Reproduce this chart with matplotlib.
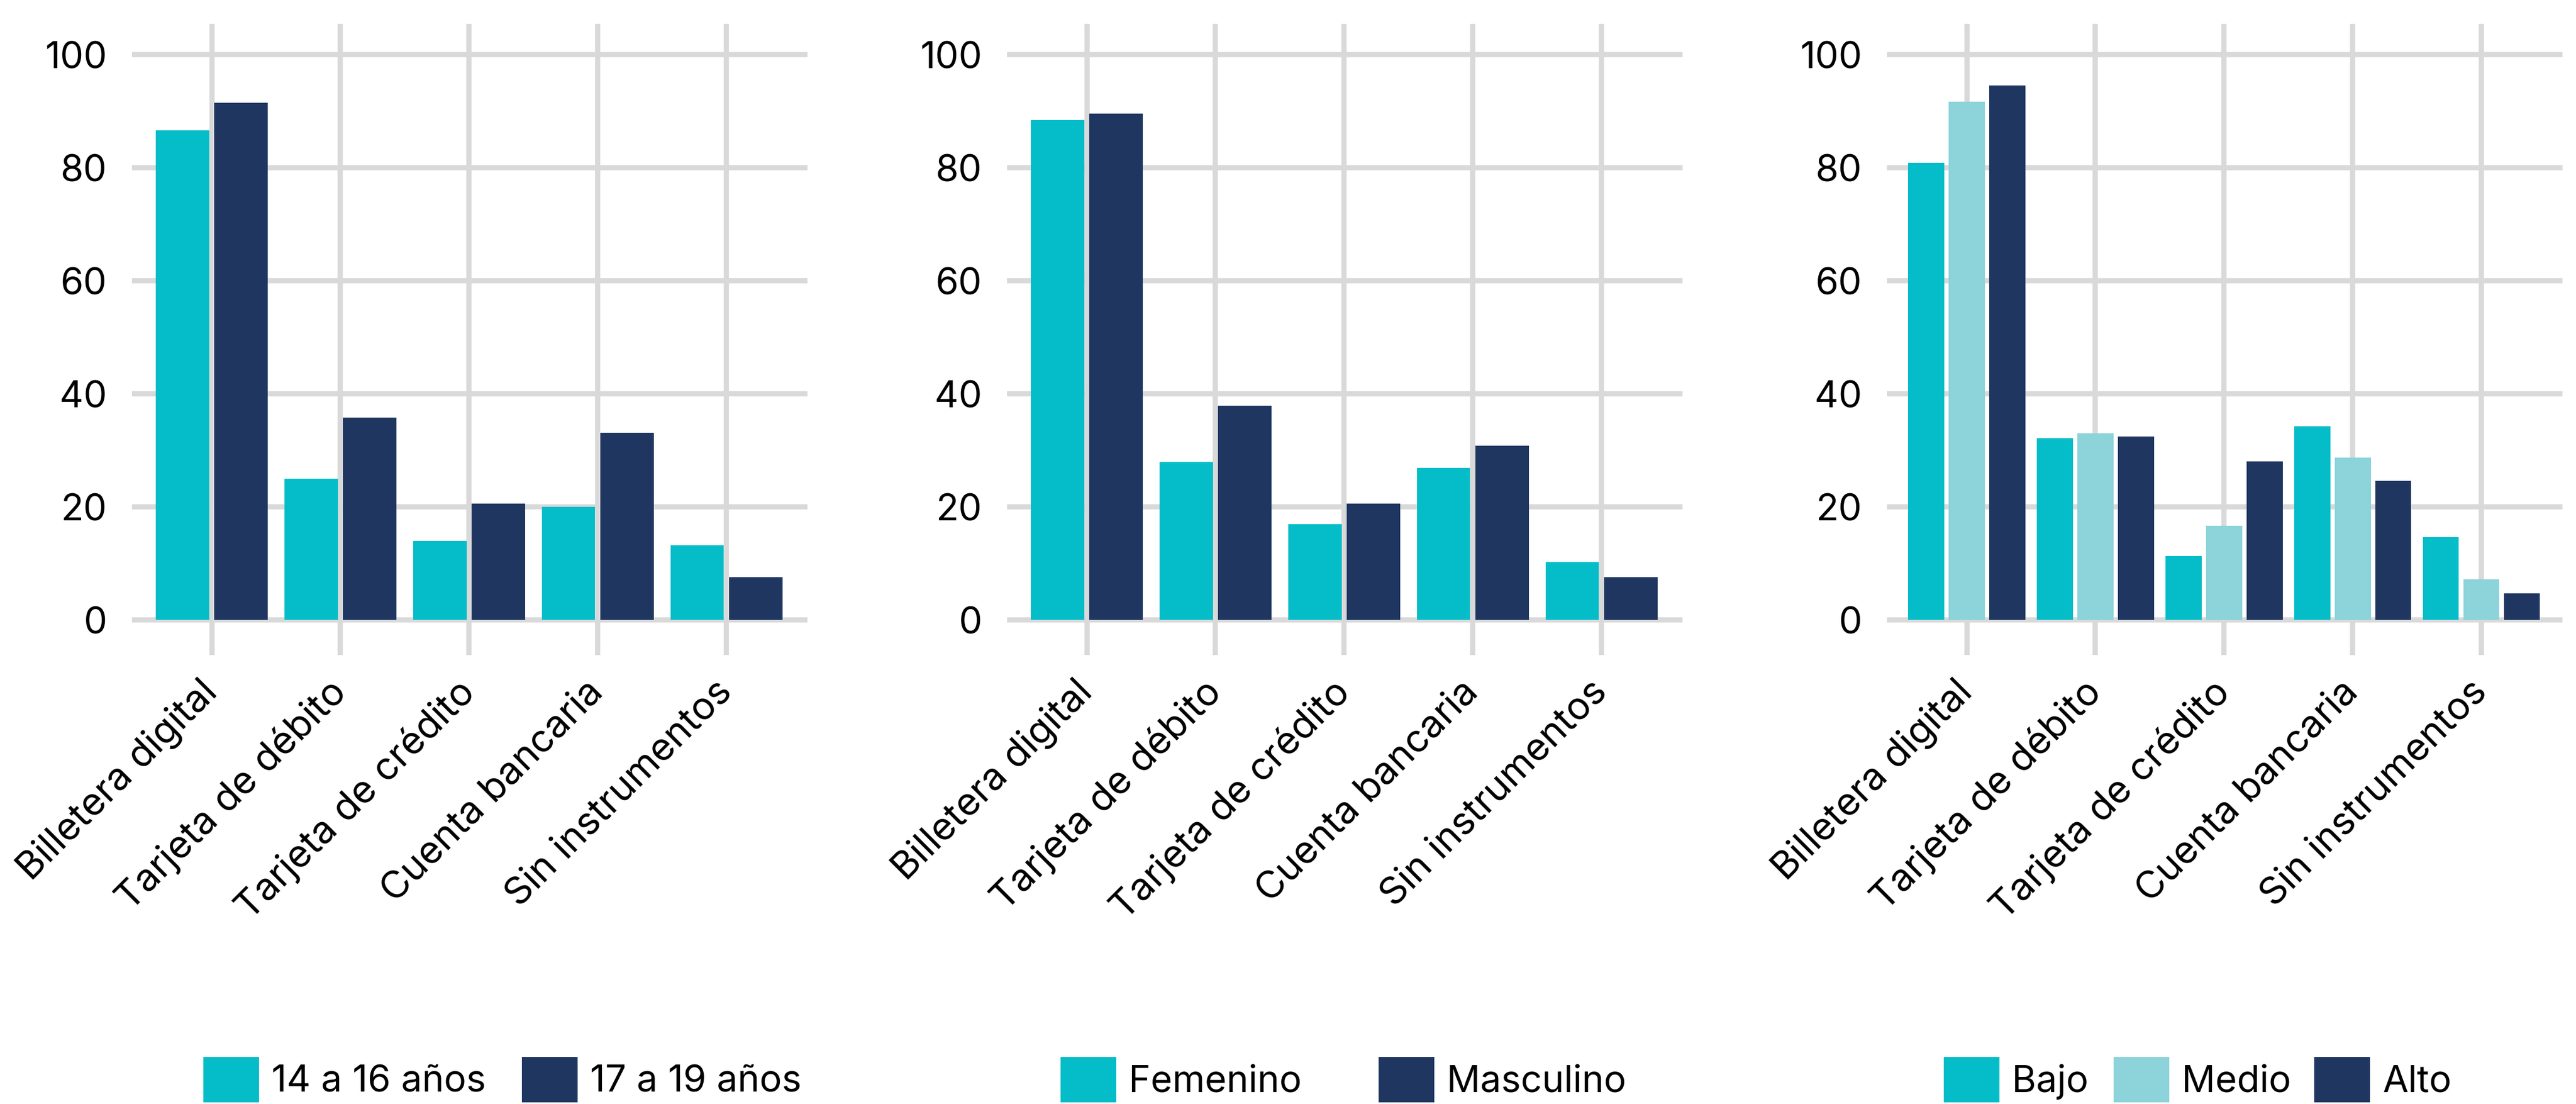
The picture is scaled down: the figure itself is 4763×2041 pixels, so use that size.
import numpy as np
import matplotlib
matplotlib.use("Agg")
import matplotlib.pyplot as plt
from matplotlib.transforms import ScaledTranslation

plt.rcParams['font.family'] = ['Inter', 'DejaVu Sans']

# data
categorias = ['Billetera digital', 'Tarjeta de débito', 'Tarjeta de crédito',
              'Cuenta bancaria', 'Sin instrumentos']

edad_labels = ['14 a 16 años', '17 a 19 años']
edad_14_16 = [86.6, 25.0, 14.0, 20.0, 13.2]
edad_17_19 = [91.5, 35.8, 20.6, 33.1, 7.6]

sexo_labels = ['Femenino', 'Masculino']
femenino = [88.5, 28.0, 17.0, 26.9, 10.3]
masculino = [89.6, 37.9, 20.6, 30.8, 7.6]

nivel_labels = ['Bajo', 'Medio', 'Alto']
bajo = [80.9, 32.2, 11.3, 34.3, 14.7]
medio = [91.7, 33.0, 16.7, 28.7, 7.2]
alto = [94.6, 32.5, 28.1, 24.6, 4.7]

CYAN = '#04BDC8'
LIGHT = '#8CD3DA'
NAVY = '#1F3661'
GRID = '#D9D9D9'
FS = 16.5

W, H = 4763, 2041
fig = plt.figure(figsize=(W / 300, H / 300), dpi=300)

# left edge of axes (px), series, labels, colours, bar width, bar step,
# x of each legend entry (px)
panels = [
    (244, [edad_14_16, edad_17_19], edad_labels, [CYAN, NAVY], 0.415, 0.455,
     [376, 965]),
    (1862, [femenino, masculino], sexo_labels, [CYAN, NAVY], 0.415, 0.455,
     [1961, 2549]),
    (3489, [bajo, medio, alto], nivel_labels, [CYAN, LIGHT, NAVY], 0.28, 0.315,
     [3594, 3908, 4279]),
]

x = np.arange(len(categorias))
shift = ScaledTranslation(0.08, 0, fig.dpi_scale_trans)
for left, series, labels, colors, bw, step, leg_xs in panels:
    ax = fig.add_axes([left / W, 1 - 1211 / H, 1249 / W, (1211 - 44) / H])
    n = len(series)
    offsets = (np.arange(n) - (n - 1) / 2) * step
    handles = []
    for vals, lab, col, off in zip(series, labels, colors, offsets):
        b = ax.bar(x + off, vals, bw, color=col, label=lab, zorder=3)
        handles.append(b)
    ax.set_xlim(-0.62, 4.63)
    ax.set_ylim(-6.2, 105.5)
    ax.set_yticks([0, 20, 40, 60, 80, 100])
    ax.set_xticks(x)
    ax.set_xticklabels(categorias, rotation=45, ha='right', va='center',
                       rotation_mode='anchor', fontsize=17)
    for t in ax.get_xticklabels():
        t.set_transform(t.get_transform() + shift)
    ax.tick_params(axis='both', length=0)
    ax.tick_params(axis='y', pad=11, labelsize=FS)
    ax.tick_params(axis='x', pad=14)
    ax.grid(True, color=GRID, linewidth=2.3, zorder=0)
    ax.set_axisbelow(True)
    for s in ax.spines.values():
        s.set_visible(False)

    # one legend per entry so each swatch sits where it does in the original
    for h, lab, lx in zip(handles, labels, leg_xs):
        fig.legend(handles=[h], labels=[lab], loc='center left',
                   bbox_to_anchor=(lx / W, 1 - 1996 / H), frameon=False,
                   fontsize=FS, handlelength=1.5, handleheight=1.5,
                   handletextpad=0.33, borderpad=0, borderaxespad=0)

fig.savefig('out.png', dpi=300)
